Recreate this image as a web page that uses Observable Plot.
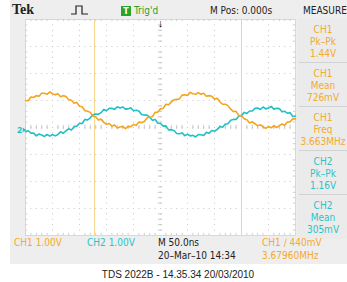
<!DOCTYPE html>
<html><head><meta charset="utf-8">
<script src="https://cdn.jsdelivr.net/npm/d3@7"></script>
<script src="https://cdn.jsdelivr.net/npm/@observablehq/plot@0.6"></script>
<style>
body{margin:0;background:#fff;}
#wrap{position:relative;width:347px;height:282px;overflow:hidden;font-family:"Liberation Sans Narrow","DejaVu Sans Condensed",Roboto,sans-serif;}
#wrap svg{position:absolute;left:0;top:0;}
.t{position:absolute;white-space:nowrap;font-size:10px;line-height:1;transform:translate(0,-50%);}
.c{transform:translate(-50%,-50%);}
.bg{position:absolute;}
</style></head><body><div id="wrap"></div>
<script>
// time axis (ns), 50 ns/div, M Pos 0.000s
const timeNs = [-250,-245,-240,-235,-230,-225,-220,-215,-210,-205,-200,-195,-190,-185,-180,-175,-170,-165,-160,-155,-150,-145,-140,-135,-130,-125,-120,-115,-110,-105,-100,-95,-90,-85,-80,-75,-70,-65,-60,-55,-50,-45,-40,-35,-30,-25,-20,-15,-10,-5,0,5,10,15,20,25,30,35,40,45,50,55,60,65,70,75,80,85,90,95,100,105,110,115,120,125,130,135,140,145,150,155,160,165,170,175,180,185,190,195,200,205,210,215,220,225,230,235,240,245,250];
// CH1 (orange) volts
const ch1Volts = [1.09,1.08,1.22,1.20,1.27,1.25,1.36,1.36,1.32,1.41,
1.34,1.30,1.34,1.23,1.27,1.24,1.12,1.10,0.99,1.02,
0.88,0.86,0.71,0.69,0.65,0.51,0.49,0.37,0.40,0.28,
0.21,0.24,0.14,0.18,0.07,0.11,0.13,0.05,0.13,0.12,
0.20,0.17,0.29,0.27,0.31,0.44,0.48,0.49,0.65,0.66,
0.78,0.80,0.95,0.93,1.04,1.12,1.13,1.15,1.29,1.30,
1.28,1.39,1.34,1.32,1.38,1.32,1.36,1.25,1.27,1.25,
1.14,1.17,1.04,0.95,0.95,0.90,0.77,0.68,0.69,0.53,
0.53,0.41,0.38,0.26,0.30,0.23,0.15,0.19,0.11,0.06,
0.13,0.08,0.16,0.09,0.16,0.22,0.17,0.29,0.30,0.41,0.41];
// CH2 (cyan) volts
const ch2Volts = [-0.06,-0.03,-0.12,-0.12,-0.22,-0.15,-0.19,-0.24,-0.17,-0.23,
-0.17,-0.22,-0.17,-0.07,-0.12,-0.03,0.04,0.00,0.12,0.14,
0.25,0.24,0.39,0.37,0.45,0.56,0.59,0.58,0.64,0.76,
0.71,0.80,0.80,0.76,0.86,0.81,0.85,0.77,0.78,0.82,
0.71,0.73,0.70,0.57,0.55,0.55,0.47,0.36,0.39,0.25,
0.24,0.14,0.15,0.00,0.01,-0.02,-0.13,-0.14,-0.11,-0.21,
-0.16,-0.22,-0.20,-0.26,-0.17,-0.18,-0.21,-0.09,-0.12,-0.02,
-0.05,0.02,0.13,0.10,0.22,0.23,0.36,0.39,0.39,0.52,
0.53,0.65,0.61,0.70,0.70,0.80,0.81,0.76,0.85,0.78,
0.81,0.87,0.77,0.80,0.79,0.67,0.69,0.62,0.64,0.50,0.51];
const cursorTimes = [-122, 150];
const gridTimes = [-200,-150,-100,-50,0,50,100,150,200];
const gridDivs = [-3,-2,-1,0,1,2,3];
const minorTimes = [-240,-230,-220,-210,-190,-180,-170,-160,-140,-130,-120,-110,-90,-80,-70,-60,-40,-30,-20,-10,10,20,30,40,60,70,80,90,110,120,130,140,160,170,180,190,210,220,230,240];
const minorDivs = [-3.8,-3.6,-3.4,-3.2,-2.8,-2.6,-2.4,-2.2,-1.8,-1.6,-1.4,-1.2,-0.8,-0.6,-0.4,-0.2,0.2,0.4,0.6,0.8,1.2,1.4,1.6,1.8,2.2,2.4,2.6,2.8,3.2,3.4,3.6,3.8];
const groundPos = -0.09; // channel position (div), 1.00 V/div

const measureCh = ["CH1","CH1","CH1","CH2","CH2"];
const measureName = ["Pk\u2013Pk","Mean","Freq","Pk\u2013Pk","Mean"];
const measureValue = ["1.44V","726mV","3.663MHz","1.16V","305mV"];

const ORANGE = "#f3a51f", CYAN = "#22c0c4", TXT_OR = "#f5aa2a", TXT_CY = "#2cc3c8";
const GRID = "#c8c8c8";

const ch1 = timeNs.map((t, i) => ({t, v: ch1Volts[i]}));
const ch2 = timeNs.map((t, i) => ({t, v: ch2Volts[i]}));

const wrap = document.getElementById("wrap");
const bg = document.createElement("div");
bg.className = "bg";
Object.assign(bg.style, {left:"10px", top:"0px", width:"337px", height:"264px", background:"#eeeeee"});
wrap.appendChild(bg);

const chart = Plot.plot({
  width: 347, height: 282,
  marginLeft: 25, marginRight: 52, marginTop: 19, marginBottom: 47,
  x: {domain: [-250, 250], axis: null},
  y: {domain: [-4, 4], axis: null},
  style: {background: "transparent"},
  marks: [
    Plot.frame({fill: "white", stroke: "#d8d8d8"}),
    Plot.gridX(gridTimes, {stroke: GRID, strokeOpacity: 1, strokeDasharray: "1,4.4"}),
    Plot.gridY(gridDivs, {stroke: GRID, strokeOpacity: 1, strokeDasharray: "1,4.4"}),
    Plot.ruleX(minorTimes, {y1: -0.08, y2: 0.08, stroke: GRID}),
    Plot.ruleY(minorDivs, {x1: -4, x2: 4, stroke: GRID}),
    Plot.ruleX(minorTimes, {y1: -4, y2: -3.92, stroke: "#cfcfcf"}),
    Plot.ruleX(minorTimes, {y1: 3.92, y2: 4, stroke: "#cfcfcf"}),
    Plot.ruleY(minorDivs, {x1: -250, x2: -246, stroke: "#cfcfcf"}),
    Plot.ruleY(minorDivs, {x1: 246, x2: 250, stroke: "#cfcfcf"}),
    Plot.ruleX(cursorTimes, {stroke: "#f7d484", strokeWidth: 1}),
    Plot.line(ch2, {x: "t", y: d => d.v + groundPos, stroke: CYAN, strokeWidth: 1.6}),
    Plot.line(ch1, {x: "t", y: d => d.v + groundPos, stroke: ORANGE, strokeWidth: 1.6}),
    Plot.text(["2"], {x: -250, y: groundPos, dx: -6, fill: CYAN, fontSize: 9, fontWeight: "bold"}),
    Plot.dot([0], {x: -250, y: groundPos, dx: -1.5, symbol: "triangle", rotate: 90, r: 1.6, fill: CYAN, stroke: "none"}),
    Plot.text(["\u2193"], {x: 0, y: 4, dy: 4, fill: "black", fontSize: 11, fontWeight: "bold"})
  ]
});
wrap.appendChild(chart);

function addText(txt, left, top, opts = {}, center = false) {
  const d = document.createElement("div");
  d.className = center ? "t c" : "t";
  d.textContent = txt;
  d.style.left = left + "px";
  d.style.top = top + "px";
  Object.assign(d.style, opts);
  wrap.appendChild(d);
  return d;
}

// measurement panel
const panel = document.createElement("div");
panel.className = "bg";
Object.assign(panel.style, {left:"297px", top:"19px", width:"50px", height:"220px", background:"#ebebeb"});
wrap.appendChild(panel);
measureCh.forEach((ch, i) => {
  const top = 19 + i * 44;
  if (i > 0) {
    const sep = document.createElement("div");
    sep.className = "bg";
    Object.assign(sep.style, {left:"299px", top:(top - 1) + "px", width:"48px", height:"1px", background:"#d2d2d2"});
    wrap.appendChild(sep);
  }
  const col = ch === "CH1" ? TXT_OR : TXT_CY;
  addText(ch, 323, top + 11, {color: col}, true);
  addText(measureName[i], 323, top + 23, {color: col}, true);
  addText(measureValue[i], 323, top + 35, {color: col}, true);
});

// header
addText("Tek", 12, 10, {fontFamily: "'Liberation Serif','DejaVu Serif',serif", fontWeight: "bold", fontSize: "14px", color: "#222"});
const icon = document.createElementNS("http://www.w3.org/2000/svg", "svg");
icon.setAttribute("width", "20"); icon.setAttribute("height", "12");
Object.assign(icon.style, {position: "absolute", left: "70px", top: "4px"});
icon.innerHTML = '<polyline points="1,10 6,10 6,2 12,2 12,10 18,10" fill="none" stroke="#222" stroke-width="1.2"/>';
wrap.appendChild(icon);
addText("T", 121, 11, {background: "#2aa32a", color: "white", width: "10px", height: "10px", lineHeight: "10px", textAlign: "center", fontSize: "9px", fontWeight: "bold"});
addText("Trig'd", 134, 11, {color: "#2aa32a"});
addText("M Pos: 0.000s", 210, 11, {color: "#222"});
addText("MEASURE", 303, 11, {color: "#222"});

// status bar
addText("CH1  1.00V", 14, 243, {color: TXT_OR});
addText("CH2  1.00V", 87, 243, {color: TXT_CY});
addText("M 50.0ns", 158, 243, {color: "#222"});
addText("20\u2013Mar\u201310 14:34", 158, 256, {color: "#222"});
addText("CH1 \u2215 440mV", 262, 243, {color: TXT_OR});
addText("3.67960MHz", 262, 256, {color: TXT_OR});

// caption
addText("TDS 2022B - 14.35.34   20/03/2010", 178, 275, {color: "#222", fontFamily: "'Liberation Sans',Arial,sans-serif"}, true);
</script></body></html>
